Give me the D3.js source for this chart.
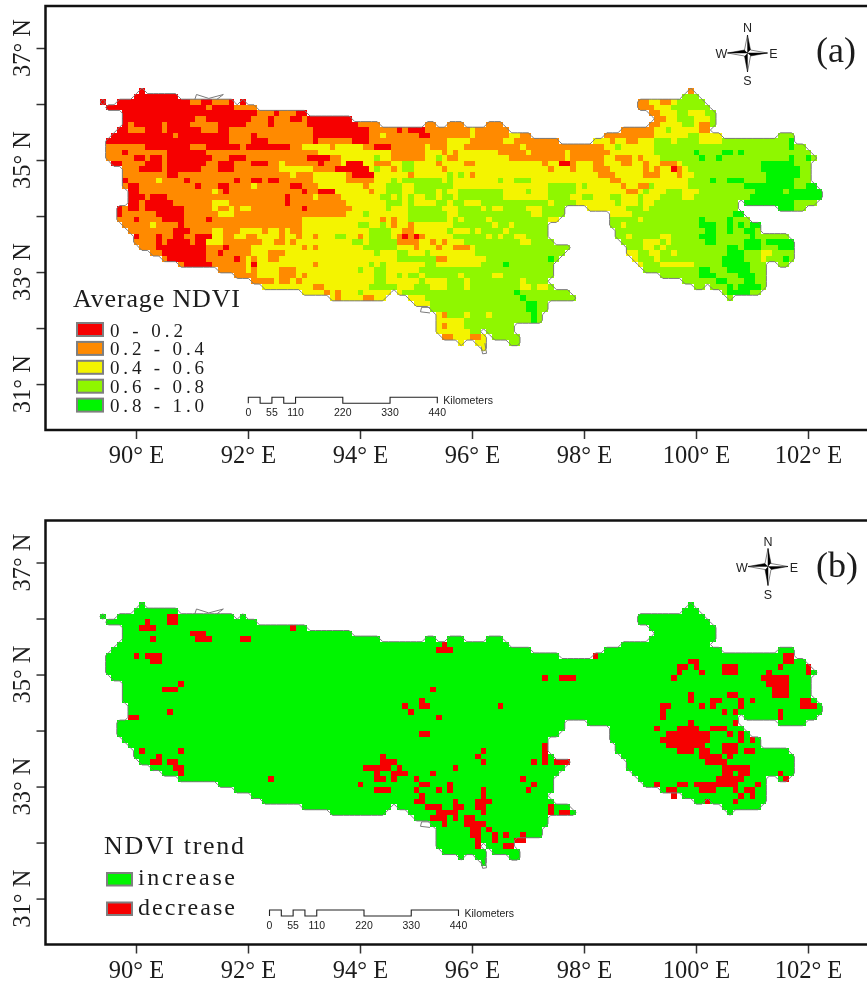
<!DOCTYPE html>
<html>
<head>
<meta charset="utf-8">
<script src="https://cdn.jsdelivr.net/npm/d3@7"></script>
<style>
  html, body { margin: 0; padding: 0; background: #fff; overflow: hidden; }
  svg { display: block; filter: blur(0.45px); }
  .serif { font-family: "Liberation Serif", serif; fill: #1c1c1c; }
  .sans { font-family: "Liberation Sans", sans-serif; fill: #222; }
</style>
</head>
<body>
<script>
// tick values in degrees
var lonTicks = [90, 92, 94, 96, 98, 100, 102];
var latTicks = [31, 32, 33, 34, 35, 36, 37];
var scaleStops = [0, 27.5, 55, 82.5, 110, 220, 330, 440];
var scaleLabels = [0, 55, 110, 220, 330, 440];

// legend entries
var ndviLabels = ["0 - 0.2", "0.2 - 0.4", "0.4 - 0.6", "0.6 - 0.8", "0.8 - 1.0"];
var ndviKeys = ["r", "o", "y", "l", "g"];
var ndviColors = ["#f60000", "#ff8a00", "#f4f400", "#8ff700", "#00f500"];
var trendLabels = ["increase", "decrease"];
var trendColors = ["#00f500", "#f60000"];

// "12o" = class o starts at column 12, "." = outside the region
var ndviRows = [
  "7r 8. 105o 106.",
  "6r 14. 104l 107.",
  "0r 1. 3r 16o 18r 20o 23r 24. 25r 26. 96o 98y 100o 102y 103l 108.",
  "1r 19o 20r 24o 28. 96o 99y 102l 109.",
  "4r 28o 31r 32o 35r 37. 98o 100y 103l 105y 108l 110.",
  "4r 17o 19r 27o 30r 31o 34r 36o 37r 45. 99o 101y 103l 106y 109l 110.",
  "4r 5o 6r 11o 12r 16o 21r 26o 30r 31o 37r 46o 50. 58o 60. 62o 65. 69o 72. 98o 100y 104l 106y 107o 109l 110.",
  "3r 5o 8r 11o 12r 18o 21r 23o 38r 48o 53r 54o 55r 58o 66y 67o 73. 93o 99y 101l 102y 107o 109.",
  "2r 13o 14r 23o 27r 28o 38r 48o 50y 51o 57r 59o 66y 67o 73y 75o 77. 90o 99y 105l 107y 111. 121l 124.",
  "1r 23o 27r 30o 38r 39o 45r 48o 62y 66o 72y 74o 82. 88y 91o 92y 94o 96y 99l 102y 103l 107y 111l 123g 124.",
  "1o 8r 16o 19r 25o 26r 34o 36y 41o 42y 47o 49r 52o 58y 59o 62y 65o 75y 76o 90y 92l 93y 99l 123g 124l 126.",
  "1o 4r 5o 12r 19o 39y 52o 58y 61o 62y 63o 64y 71o 76y 77o 83y 84o 91y 99l 106g 107l 111g 113l 114g 115l 127.",
  "1o 6r 8o 9r 11o 12r 20o 23r 26o 37r 41o 43y 49l 50y 52o 58y 60l 61y 62o 64y 73o 83y 84o 90y 92o 95y 96o 97y 100l 107g 108l 110g 111l 123g 124l 126g 127l 128.",
  "2r 4o 8r 11o 12r 19o 21r 24o 27r 30o 32y 33o 39r 40o 43y 44r 47y 49o 52y 54l 56y 60o 61y 65o 67y 79o 80y 82r 84o 85y 88o 90y 93o 95y 97o 98y 100o 103y 104l 118g 124l 127.",
  "4o 7r 11o 12r 18o 21r 24o 32y 38o 42r 48y 49l 50y 52o 53y 54l 56y 61o 62y 80o 81y 84o 85y 88o 91y 97o 98y 99o 100y 102r 103o 104y 105l 118g 125l 127.",
  "4o 12r 14o 34y 35o 38y 44o 45r 49y 55o 56y 62l 63y 64l 65y 66o 67y 89o 92y 97o 100y 103o 104y 106l 119g 125l 127.",
  "4r 5o 10y 11o 15r 16o 24r 25o 27r 29o 30r 32o 38y 44o 49y 52l 53y 54l 61y 62l 63y 71l 72y 74l 77y 91o 93y 105l 109g 110l 112g 115l 119g 124l 127.",
  "4o 5r 7o 17r 18o 21r 23o 27y 28o 34r 36o 39y 47o 48y 51l 54y 56l 63y 80l 85y 86l 87y 93o 94y 96o 98l 99y 105l 115g 124l 126g 128.",
  "5r 7o 20y 21o 22r 23o 36r 37o 39r 42y 48o 49y 51l 54y 56l 60y 61l 62y 64l 72y 76l 77y 80l 85y 94o 96y 97l 98y 101l 104y 107l 117g 122l 123g 129.",
  "5r 8o 9r 12o 33r 34o 38y 39o 43y 50l 52y 53l 54y 55l 56y 58l 60y 61l 63y 64l 72y 80l 84y 86l 88y 91l 93y 96l 97y 100l 104y 106l 116g 129.",
  "5r 7o 8r 13o 20y 23o 33r 34o 44y 51l 54y 55l 56y 60l 62y 63l 65y 68l 80y 81l 85y 92l 93y 96l 97y 99l 114. 115g 124l 128.",
  "3r 4o 5r 7o 8r 15o 20y 21o 23y 24o 25y 27o 36r 37o 45y 51l 52y 55l 61y 64l 68y 69l 70y 72l 76y 79l 83. 87y 94l 97y 98l 114. 121g 124l 126.",
  "3r 4o 10r 15o 21y 24o 44y 47l 48y 55l 62y 64l 77y 79l 83. 91y 95l 113g 115.",
  "3o 6r 7o 11r 15o 19r 20o 36y 50o 51y 52o 53y 55l 62y 63l 64y 65l 69y 70l 80y 82. 91l 96y 97l 107g 108l 112g 113l 116.",
  "4o 9y 10o 14r 15o 36y 46l 48y 50l 51y 52o 53y 55o 56y 63l 70y 71l 73y 74l 80. 91l 93y 94l 107g 110l 112g 113l 114g 115l 116g 118.",
  "5o 13r 16o 20y 22o 25y 29o 30y 32o 33y 34o 36y 48l 52y 54o 56y 62l 63y 66l 67y 68l 72y 73l 80. 92l 108g 110l 112g 113l 115g 117l 118.",
  "6r 7o 10r 11o 13r 15o 17r 20y 22o 24y 26o 28y 32o 33y 35o 36y 38o 39y 42l 44y 46o 47y 48l 52y 53o 54r 55o 56r 57o 58y 63l 69y 70l 71y 72l 74y 76l 80. 92l 94y 95l 100y 102l 107g 110l 116g 117l 123.",
  "6o 10r 11o 12r 16o 17r 19y 22o 29y 31o 33y 34o 35y 45l 47y 48l 53o 57y 59o 60y 61o 62y 65l 75y 77l 81. 93l 97y 100l 101y 102l 108g 110l 115g 118l 119g 124.",
  "7o 10r 19o 22r 23o 27y 36o 37y 38o 39y 47l 53y 56o 57y 60o 61y 63o 66y 67l 84. 94l 97y 99l 100y 101l 112g 114l 115g 118l 121g 124.",
  "9o 11r 19o 21r 22o 27y 30o 33y 49l 50y 53l 55y 58l 59y 67l 83. 94y 96l 98y 100l 102y 103l 112g 115l 118y 120l 124.",
  "11o 12r 19o 24r 25o 26y 27o 28y 30o 32y 53l 60o 62y 69l 80g 81l 82. 95y 96l 99y 100l 111g 115l 118y 119l 122g 123l 124.",
  "14o 15r 20o 26y 27r 28y 38o 39y 48l 49y 50l 51y 58l 60y 68l 72g 73l 81. 96y 97l 100y 106l 111g 116l 119. 121l 123.",
  "21o 26y 27o 28y 32o 35y 46l 47y 49l 51y 57l 81. 97l 107g 109l 112g 116l 119.",
  "24o 28y 32o 35y 36o 37y 49l 51y 53l 54y 55l 57y 58l 64y 65l 70y 72l 81. 100l 107g 110l 114g 117l 119.",
  "27o 31y 32o 34y 35o 36y 49l 51y 57l 58y 62l 65y 66l 75y 76l 80. 104l 110g 112l 115g 117l 119.",
  "29y 38o 40y 48l 53y 56l 59y 62l 65y 66l 75y 77l 78y 80l 81. 106l 108. 109l 112g 113l 114g 118l 119.",
  "36y 40o 41y 42o 43y 46l 47y 52. 53y 54l 74g 75l 84. 111l 112g 116l 118.",
  "41y 42o 43y 47o 49y 51. 55y 58l 75g 76l 85. 112l 113.",
  "56y 59l 76g 78l 80.",
  "59l 76g 78l 80.",
  "60y 61o 62l 65y 66l 69y 70l 77g 78l 79.",
  "60y 65l 77g 78l 79.",
  "60y 61o 62y 65l 74.",
  "60y 66l 68. 69l 74.",
  "61o 63y 66o 68y 69. 70l 75.",
  "64y 65. 67y 69. 73l 75.",
  "68y 69."
];

// decrease cells of panel b, same row order and same notation
var trendRows = [
  "", "",
  "12d 14.",
  "8d 9. 12d 14.",
  "7d 10. 34d 35.",
  "16d 19.",
  "9d 10. 17d 20. 25d 27.",
  "61d 62.",
  "60d 63.",
  "6d 7. 8d 11. 88d 89. 122d 124.",
  "9d 11. 105d 107. 122d 124.",
  "103d 105. 106d 107. 111d 114. 121d 122. 126d 127.",
  "103d 104. 107d 108. 111d 114. 119d 120. 126d 127.",
  "79d 80. 82d 85. 102d 103. 118d 123.",
  "14d 15. 119d 123.",
  "11d 14. 59d 60. 120d 123.",
  "105d 106. 112d 114. 120d 123.",
  "57d 58. 105d 106. 109d 111. 114d 115. 116d 117. 125d 127.",
  "54d 55. 57d 59. 71d 72. 100d 102. 107d 108. 109d 110. 114d 115. 125d 128.",
  "12d 13. 55d 56. 100d 101. 111d 112. 113d 114. 121d 122.",
  "5d 7. 60d 61. 100d 101. 121d 122.",
  "105d 106. 113d 114.",
  "99d 100. 103d 107. 109d 112.",
  "57d 59. 101d 109. 112d 113. 114d 115.",
  "100d 109. 114d 115. 116d 117.",
  "79d 80. 101d 108. 111d 114.",
  "7d 8. 14d 15. 68d 69. 79d 80. 103d 106. 107d 109. 111d 114. 115d 117.",
  "10d 11. 50d 51. 67d 68. 79d 80. 107d 111. 112d 113.",
  "9d 11. 12d 14. 50d 53. 68d 69. 77d 78. 79d 80. 81d 84. 108d 112.",
  "13d 15. 47d 52. 53d 54. 63d 64. 111d 116.",
  "14d 15. 49d 50. 52d 55. 59d 60. 111d 113. 114d 116. 121d 122.",
  "30d 31. 49d 51. 52d 53. 56d 57. 75d 76. 110d 115. 122d 123.",
  "46d 47. 57d 59. 62d 63. 77d 78. 99d 100. 103d 105. 106d 114. 117d 118.",
  "49d 52. 56d 57. 60d 61. 62d 63. 68d 69. 76d 77. 101d 103. 107d 110. 113d 114. 115d 117.",
  "57d 58. 68d 69. 102d 103. 114d 115. 116d 117.",
  "56d 58. 63d 64. 67d 70. 108d 109. 113d 114.",
  "58d 61. 63d 65. 67d 69. 80d 81.",
  "60d 64. 68d 69. 80d 81. 82d 84.",
  "59d 62. 63d 64. 65d 67.",
  "61d 62. 65d 69.",
  "66d 68. 69d 70.",
  "66d 68. 70d 71. 72d 73. 75d 76.",
  "67d 68. 70d 71. 74d 76.",
  "67d 68. 72d 74."
];

// bits of the border that stick out of the raster, lon/lat
var borderTail = [[96.23, 31.73], [96.26, 31.55], [96.19, 31.54], [96.16, 31.67]];
var borderBump = [[91.05, 36.08], [91.08, 36.17], [91.3, 36.1], [91.56, 36.17], [91.44, 36.08]];
var borderHook = [[95.25, 32.37], [95.1, 32.37], [95.08, 32.29], [95.25, 32.27]];

var lon0 = 89.357, lat0 = 36.286, cell = 0.1;
var nCols = 130, nRows = ndviRows.length;

function parseRows(rows) {
  var runs = [];
  rows.forEach(function(str, r) {
    var tokens = str.split(" ").filter(function(t) { return t; });
    tokens.forEach(function(t, i) {
      var key = t.slice(-1);
      if (key == "." || i == tokens.length - 1) return;
      runs.push({row: r, start: parseInt(t), end: parseInt(tokens[i + 1]), key: key});
    });
  });
  return runs;
}

var ndviRuns = parseRows(ndviRows);
var trendRuns = parseRows(trendRows);

// region mask for the outline
var mask = new Array(nCols * nRows).fill(0);
ndviRuns.forEach(function(d) {
  for (var c = d.start; c < d.end; c++) mask[d.row * nCols + c] = 1;
});

var svg = d3.select("body").append("svg").attr("width", 867).attr("height", 985);

var x = d3.scaleLinear().domain([88.384, 103.1]).range([45.5, 869.6]);
var km = d3.scaleLinear().domain([0, 440]);

function drawPanel(p) {
  var y = d3.scaleLinear().domain([30.18, 37.75]).range([p.bottom, p.top]);
  var g = svg.append("g");

  function cellRect(sel, color) {
    sel.attr("x", function(d) { return x(lon0 + d.start * cell); })
      .attr("y", function(d) { return y(lat0 - d.row * cell); })
      .attr("width", function(d) { return x(lon0 + d.end * cell) - x(lon0 + d.start * cell); })
      .attr("height", y(lat0 - cell) - y(lat0))
      .attr("fill", color)
      .attr("shape-rendering", "crispEdges");
  }

  // raster
  g.append("g").selectAll("rect").data(p.base).enter().append("rect").call(cellRect, p.baseColor);
  if (p.over) {
    g.append("g").selectAll("rect").data(p.over).enter().append("rect").call(cellRect, trendColors[1]);
  }

  // outline traced from the mask
  var project = d3.geoTransform({
    point: function(px, py) {
      this.stream.point(x(lon0 + px * cell), y(lat0 - py * cell));
    }
  });
  var outline = d3.contours().size([nCols, nRows]).thresholds([0.5])(mask);
  g.append("path").attr("d", d3.geoPath(project)(outline[0]))
    .attr("fill", "none").attr("stroke", "#7a7a7a").attr("stroke-width", 1);
  var border = d3.line().x(function(d) { return x(d[0]); }).y(function(d) { return y(d[1]); });
  [borderTail, borderBump, borderHook].forEach(function(b) {
    g.append("path").attr("d", border(b)).attr("fill", "none").attr("stroke", "#7a7a7a").attr("stroke-width", 1);
  });

  // axes
  var xAxis = g.append("g").attr("transform", "translate(0," + p.bottom + ")")
    .call(d3.axisBottom(x).tickValues(lonTicks).tickSize(9).tickPadding(7)
      .tickFormat(function(d) { return d + "° E"; }));
  var yAxis = g.append("g").attr("transform", "translate(45.5,0)")
    .call(d3.axisLeft(y).tickValues(latTicks).tickSize(9).tickFormat(""));
  xAxis.select(".domain").remove();
  yAxis.select(".domain").remove();
  xAxis.selectAll("line").attr("stroke", "#333").attr("stroke-width", 1.5);
  yAxis.selectAll("line").attr("stroke", "#333").attr("stroke-width", 1.5);
  xAxis.selectAll("text").attr("class", "serif").style("font-size", "24.5px").attr("fill", null);

  latTicks.filter(function(d) { return d % 2 == 1; }).forEach(function(d) {
    g.append("text").attr("class", "serif").style("font-size", "24.5px")
      .attr("text-anchor", "middle")
      .attr("transform", "translate(29.5," + y(d) + ") rotate(-90)")
      .text(d + "° N");
  });

  // frame, right side falls outside the page
  g.append("rect").attr("x", 45.5).attr("y", p.top).attr("width", 900).attr("height", p.bottom - p.top)
    .attr("fill", "none").attr("stroke", "#111").attr("stroke-width", 2.5);

  // scale bar
  km.range([p.barX, p.barX + 189]);
  var barPts = [];
  scaleStops.forEach(function(s, i) {
    if (i == scaleStops.length - 1) {
      barPts.push([km(s), p.barY], [km(s), p.barY + 6]);
      return;
    }
    var level = i % 2 == 0 ? p.barY : p.barY + 6;
    if (i == 0) barPts.push([km(s), p.barY + 6]);
    barPts.push([km(s), level], [km(scaleStops[i + 1]), level]);
  });
  g.append("path").attr("d", d3.line()(barPts)).attr("fill", "none")
    .attr("stroke", "#222").attr("stroke-width", 1.1);
  scaleLabels.forEach(function(s) {
    g.append("text").attr("class", "sans").style("font-size", "10.5px").attr("text-anchor", "middle")
      .attr("x", km(s)).attr("y", p.barY + 18.7).text(s);
  });
  g.append("text").attr("class", "sans").style("font-size", "10.5px")
    .attr("x", p.barX + 195).attr("y", p.barY + 6.7).text("Kilometers");

  // north arrow
  var c = g.append("g").attr("transform", "translate(" + p.northX + "," + p.northY + ")");
  var tips = [[0, -18], [20, 0], [0, 19], [-20, 0]];
  var inner = [[3, -3], [3, 3], [-3, 3], [-3, -3]];
  tips.forEach(function(t, i) {
    var a = inner[i], b = inner[(i + 3) % 4];
    c.append("path").attr("d", d3.line()([[0, 0], t, a])).attr("fill", "#000").attr("stroke", "#000").attr("stroke-width", 0.5);
    c.append("path").attr("d", d3.line()([[0, 0], t, b])).attr("fill", "#fff").attr("stroke", "#000").attr("stroke-width", 0.5);
  });
  [["N", 0, -21], ["S", 0, 32], ["W", -26, 5], ["E", 26, 5]].forEach(function(d) {
    c.append("text").attr("class", "sans").style("font-size", "12.5px").attr("text-anchor", "middle")
      .attr("x", d[1]).attr("y", d[2]).text(d[0]);
  });

  g.append("text").attr("class", "serif").style("font-size", "36px")
    .attr("x", 816).attr("y", p.tagY).text(p.tag);
  return g;
}

function swatch(g, px, py, w, h, color) {
  g.append("rect").attr("x", px).attr("y", py).attr("width", w).attr("height", h)
    .attr("fill", color).attr("stroke", "#7f7f7f").attr("stroke-width", 2);
}

// (a)
var panelA = drawPanel({
  top: 6, bottom: 430, base: ndviRuns,
  baseColor: function(d) { return ndviColors[ndviKeys.indexOf(d.key)]; },
  barX: 248.3, barY: 397.3, northX: 747.5, northY: 53, tag: "(a)", tagY: 62
});
panelA.append("text").attr("class", "serif").style("font-size", "26px")
  .attr("x", 73).attr("y", 306.5).attr("textLength", 167).attr("lengthAdjust", "spacing")
  .text("Average NDVI");
ndviLabels.forEach(function(label, i) {
  var py = 323 + i * 18.9;
  swatch(panelA, 77, py, 26, 13, ndviColors[i]);
  panelA.append("text").attr("class", "serif").style("font-size", "19px")
    .attr("x", 110).attr("y", py + 13.5)
    .attr("textLength", i == 0 ? 73 : 94).attr("lengthAdjust", "spacing")
    .text(label);
});

// (b)
var panelB = drawPanel({
  top: 520.5, bottom: 944.5, base: ndviRuns, baseColor: trendColors[0], over: trendRuns,
  barX: 269.5, barY: 910, northX: 768, northY: 566.5, tag: "(b)", tagY: 577
});
panelB.append("text").attr("class", "serif").style("font-size", "26px")
  .attr("x", 104).attr("y", 854).attr("textLength", 140).attr("lengthAdjust", "spacing")
  .text("NDVI trend");
trendLabels.forEach(function(label, i) {
  var py = 873 + i * 29.5;
  swatch(panelB, 107, py, 25, 12.5, trendColors[i]);
  panelB.append("text").attr("class", "serif").style("font-size", "24px")
    .attr("x", 138).attr("y", py + 12).attr("textLength", 97).attr("lengthAdjust", "spacing")
    .text(label);
});
</script>
</body>
</html>
